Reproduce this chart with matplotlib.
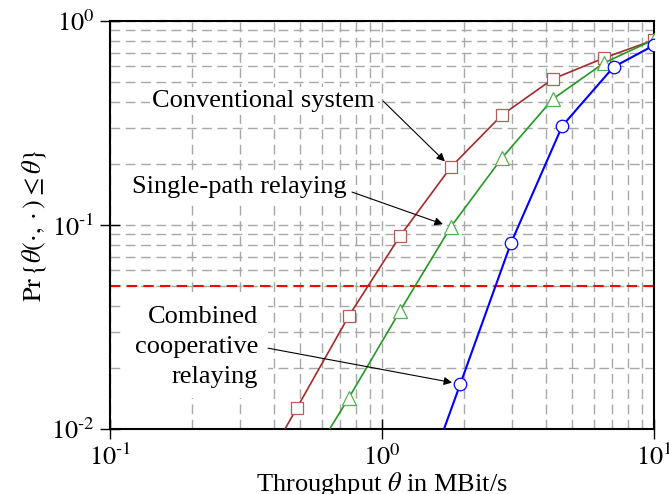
import numpy as np
import matplotlib
matplotlib.use('Agg')
import matplotlib.pyplot as plt
import matplotlib.ticker as mticker

plt.rcParams['font.family'] = ['Liberation Serif', 'DejaVu Serif']
plt.rcParams['mathtext.fontset'] = 'stix'

# throughput grid (MBit/s) and CDF values
x_conv   = [0.316, 0.487, 0.755, 1.165, 1.79, 2.76, 4.25, 6.55, 10.0]
y_conv   = [0.0046, 0.0127, 0.0358, 0.0883, 0.192, 0.346, 0.52, 0.659, 0.807]

x_single = [0.487, 0.755, 1.165, 1.79, 2.76, 4.25, 6.55, 10.0]
y_single = [0.0055, 0.0142, 0.0379, 0.0978, 0.213, 0.415, 0.623, 0.81]

x_coop   = [1.26, 1.94, 2.98, 4.6, 7.1, 10.0]
y_coop   = [0.0034, 0.0166, 0.0816, 0.306, 0.595, 0.76]

outage_level = 0.05

fs = 19

def pow_label(v, pos):
   e = int(np.round(np.log10(v)))
   if e < 0:
      return r'$10^{\text{-}%d}$' % (-e)
   return r'$10^{%d}$' % e

fig = plt.figure(figsize=[6.69, 4.94], dpi=100)
ax = fig.add_axes([0.1644, 0.1316, 0.9776-0.1644, 0.9575-0.1316])

ax.set_xscale('log')
ax.set_yscale('log')
ax.set_xlim(0.1, 10)
ax.set_ylim(0.01, 1)
ax.xaxis.set_major_formatter(mticker.FuncFormatter(pow_label))
ax.yaxis.set_major_formatter(mticker.FuncFormatter(pow_label))

#grid
ax.grid(True, which='both', color='#a8a8a8', linestyle=(0, (7, 4)), linewidth=1.0, zorder=0)
ax.set_axisbelow(True)

ax.axhline(outage_level, color='red', linestyle=(0, (5, 3)), linewidth=1.5, zorder=2)

ax.plot(x_conv, y_conv, color='#a52a2a', marker='s', markersize=8.5, mfc='white',
        mec='#b85a5a', mew=0.9, linewidth=1.2, zorder=3)
ax.plot(x_single, y_single, color='#239a23', marker='^', markersize=9.5, mfc='white',
        mec='#55b055', mew=0.9, linewidth=1.2, zorder=3)
ax.plot(x_coop, y_coop, color='#0000ff', marker='o', markersize=9, mfc='white',
        mec='#0000ff', mew=0.9, linewidth=1.5, zorder=3)

#ticks
ax.tick_params(which='major', direction='inout', length=14, width=1.0, labelsize=fs, pad=4)
ax.tick_params(which='minor', length=0)
for s in ax.spines.values():
   s.set_linewidth(1.5)

ax.set_xlabel(r'Throughput $\theta$ in MBit/s', fontsize=fs, labelpad=0)
ax.set_ylabel(r'$\mathrm{Pr}\,\{\theta(\cdot,\cdot)\leq\theta\}$', fontsize=fs, labelpad=2)

#annotations
box = dict(facecolor='white', edgecolor='none', pad=2)
arr = dict(arrowstyle='-|>', color='k', lw=0.8, mutation_scale=12, shrinkA=0, shrinkB=6)

ax.text(0.943, 0.405, 'Conventional system', fontsize=fs, ha='right', va='center', bbox=box, zorder=4)
ax.annotate('', xy=(1.79, 0.192), xytext=(1.01, 0.405), arrowprops=arr, zorder=5)

ax.text(0.743, 0.1535, 'Single-path relaying', fontsize=fs, ha='right', va='center', bbox=box, zorder=4)
ax.annotate('', xy=(1.79, 0.0978), xytext=(0.776, 0.145), arrowprops=arr, zorder=5)

ax.text(0.35, 0.0252, 'Combined\ncooperative\nrelaying', fontsize=fs, ha='right', va='center',
        linespacing=1.45, bbox=dict(facecolor='white', edgecolor='none', pad=7), zorder=4)
ax.annotate('', xy=(1.94, 0.0166), xytext=(0.381, 0.0249), arrowprops=arr, zorder=5)

plt.savefig('out.png', dpi=100)
plt.close()
